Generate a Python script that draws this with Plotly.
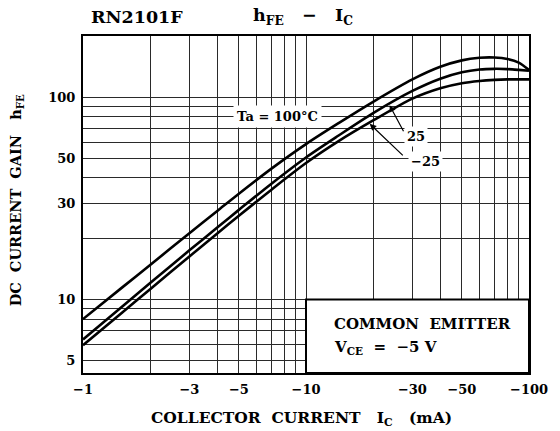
import numpy as np
import plotly.graph_objects as go

# Collector current magnitude (mA) and DC current gain per ambient temperature
ic_ma = [1, 1.5, 2, 3, 4, 5, 7, 10, 14, 20, 30, 40, 50, 60, 70, 80, 90, 100]
hfe_ta_100 = [8.0, 11.48, 14.82, 21.27, 27.4, 33.35, 44.4, 58.7, 74.5, 95.0,
              122.6, 141.5, 152.3, 156.8, 157.3, 154.8, 148.5, 136.4]
hfe_ta_25 = [6.35, 9.24, 12.05, 17.5, 22.7, 27.75, 37.4, 50.4, 64.7, 83.5,
             107.5, 123.6, 133.0, 137.3, 138.3, 137.9, 136.6, 135.2]
hfe_ta_m25 = [5.94, 8.63, 11.24, 16.33, 21.22, 25.94, 34.93, 47.3, 60.7, 76.8,
              98.5, 110.8, 117.4, 120.4, 121.9, 122.6, 122.7, 122.7]

# Axis ticks: grid at every 1-2-3...9 step, labels only on a few
x_grid = [1, 2, 3, 4, 5, 6, 7, 8, 9, 10, 20, 30, 40, 50, 60, 70, 80, 90, 100]
x_labels = {1: "\u22121", 3: "\u22123", 5: "\u22125", 10: "\u221210",
            30: "\u221230", 50: "\u221250", 100: "\u2212100"}
y_grid = [5, 6, 7, 8, 9, 10, 20, 30, 40, 50, 60, 70, 80, 90, 100]
y_labels = {5: "5", 10: "10", 30: "30", 50: "50", 100: "100"}

Y_MIN, Y_MAX = 4.33, 201.0

FONT = "DejaVu Serif"
BLACK = "#000000"

# plot-area geometry in pixels (used to place free text)
L, R, T, B = 83, 537, 36, 372.7


def px_to_paper(px, py):
    return (px - L) / (R - L), (B - py) / (B - T)


def log_interp(xq, xs, ys):
    return float(10 ** np.interp(np.log10(xq), np.log10(xs), np.log10(ys)))


fig = go.Figure()
for ys in (hfe_ta_100, hfe_ta_25, hfe_ta_m25):
    fig.add_trace(go.Scatter(
        x=ic_ma, y=ys, mode="lines",
        line=dict(color=BLACK, width=2.6, shape="spline", smoothing=0.8),
        showlegend=False, hoverinfo="skip",
    ))

axis_common = dict(
    type="log", showgrid=True, gridcolor="#2a2a2a", gridwidth=1,
    showline=True, linecolor=BLACK, linewidth=2, mirror=True,
    ticks="", zeroline=False,
    tickfont=dict(family=FONT, size=13, color=BLACK, weight="bold"),
)

fig.update_xaxes(
    range=[0, 2],
    tickvals=x_grid,
    ticktext=[x_labels.get(v, "") for v in x_grid],
    ticklabelstandoff=3,
    **axis_common,
)
fig.update_yaxes(
    range=[np.log10(Y_MIN), np.log10(Y_MAX)],
    tickvals=y_grid,
    ticktext=[y_labels.get(v, "") for v in y_grid],
    ticklabelstandoff=3,
    **axis_common,
)

# Inset box for the test conditions
fig.add_shape(type="rect", xref="x", yref="y", x0=10, x1=100, y0=Y_MIN, y1=10,
              fillcolor="white", line=dict(color=BLACK, width=2), layer="between")

txt = dict(family=FONT, color=BLACK, weight="bold")
ann = []


def free_text(px, py, text, size, xanchor="center", angle=0):
    x, y = px_to_paper(px, py)
    ann.append(dict(xref="paper", yref="paper", x=x, y=y, xanchor=xanchor, yanchor="middle",
                    text=text, showarrow=False, textangle=angle, font=dict(size=size, **txt)))


free_text(336, 324, "COMMON  EMITTER", 15, xanchor="left")
free_text(336, 347, "V<sub>CE</sub>  =  \u22125 V", 15, xanchor="left")

# Curve labels
ann.append(dict(x=np.log10(7.45), y=np.log10(80), text="Ta = 100\u00b0C", showarrow=False,
                xanchor="center", yanchor="middle",
                bgcolor="white", borderpad=3, font=dict(size=13, **txt)))
ann.append(dict(x=np.log10(31.0), y=np.log10(64.3), text="25", showarrow=False,
                xanchor="center", yanchor="middle",
                bgcolor="white", borderpad=2, font=dict(size=13, **txt)))
ann.append(dict(x=np.log10(34.3), y=np.log10(48.4), text="\u221225", showarrow=False,
                xanchor="center", yanchor="middle",
                bgcolor="white", borderpad=2, font=dict(size=13, **txt)))

# Leader arrows from labels to their curves
for tip_x, curve, tail in ((23.7, hfe_ta_25, (27.6, 66.8)), (19.3, hfe_ta_m25, (27.6, 50.8))):
    tip_y = log_interp(tip_x, ic_ma, curve) * 0.985
    ann.append(dict(x=np.log10(tip_x), y=np.log10(tip_y), ax=np.log10(tail[0]), ay=np.log10(tail[1]),
                    axref="x", ayref="y", text="", showarrow=True, arrowhead=2,
                    arrowsize=1.1, arrowwidth=1.2, arrowcolor=BLACK))

# Titles
free_text(138, 17, "RN2101F", 17.5)
free_text(307, 17, "h<sub>FE</sub>   \u2212   I<sub>C</sub>", 17.5)
free_text(305, 418, "COLLECTOR  CURRENT   I<sub>C</sub>   (mA)", 15.5)
free_text(15, 200, "DC  CURRENT  GAIN   h<sub>FE</sub>", 14.5, angle=-90)

fig.update_layout(
    width=560, height=431,
    margin=dict(l=L, r=560 - R, t=T, b=431 - B, pad=0),
    paper_bgcolor="white", plot_bgcolor="white",
    annotations=ann,
    font=dict(family=FONT, color=BLACK),
)

fig.write_html("out.html")
